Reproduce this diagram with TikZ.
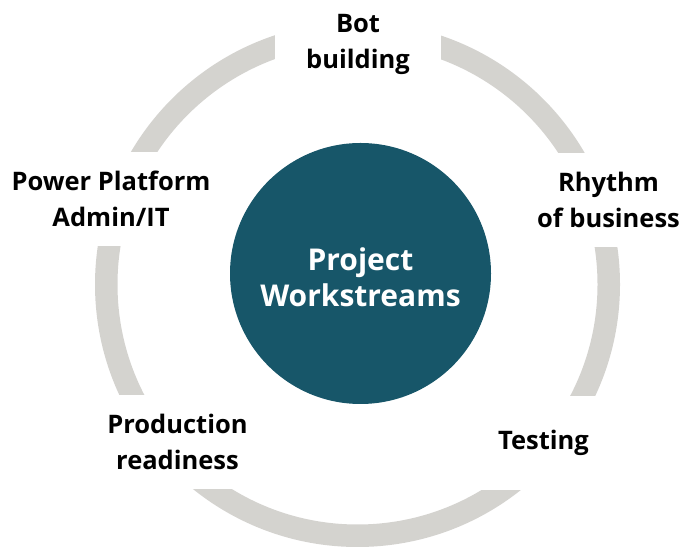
\documentclass[tikz,border=0pt]{standalone}
\usepackage{fontspec}
\setmainfont{Open Sans}
\definecolor{ringgrey}{HTML}{D4D3CF}
\definecolor{hubteal}{HTML}{175669}

\begin{document}
\begin{tikzpicture}[x=1pt,y=1pt,
  lbl/.style={fill=white,minimum height=94pt,inner sep=0pt,align=center,
    font=\fontsize{25.5}{36}\selectfont\bfseries}]
  \useasboundingbox (0,0) rectangle (690,548);
  \draw[ringgrey,line width=22.5pt] (357.5,263.5) circle [radius=251.25pt];
  \node[lbl,minimum width=166pt] (bot) at (358,504) {Bot\\building};
  \node[lbl,minimum width=200pt] (admin) at (111,349) {Power Platform\\Admin/IT};
  \node[lbl,minimum width=160pt] (rhythm) at (608.5,348) {Rhythm\\of business};
  \node[lbl,minimum width=150pt] (prod) at (177.5,106) {Production\\readiness};
  \node[lbl,minimum width=150pt] (testing) at (543.5,105) {Testing};
  \node[circle,fill=hubteal,minimum size=261pt] (hub) at (360.5,274.5) {};
  \node[align=center,text=white,font=\fontsize{30}{36}\selectfont\bfseries]
    (hubtext) at ([yshift=-3.5pt]hub.center) {Project\\Workstreams};
\end{tikzpicture}
\end{document}
